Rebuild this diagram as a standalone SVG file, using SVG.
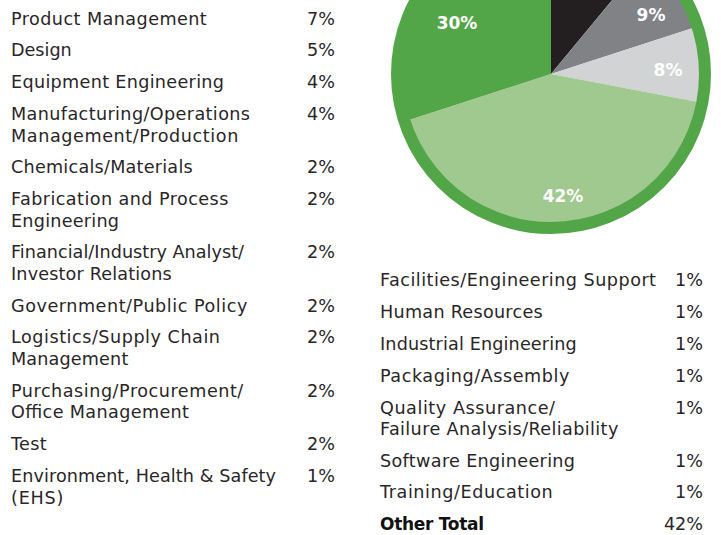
<svg xmlns="http://www.w3.org/2000/svg" width="721" height="535" viewBox="0 0 721 535">
<style>
.t{font-family:"DejaVu Sans","Liberation Sans",sans-serif;font-size:17.6px;fill:#2a2627}
.p{text-anchor:end}
.b{font-weight:bold;fill:#111;font-size:17px}
.l{font-family:"DejaVu Sans","Liberation Sans",sans-serif;font-size:17px;font-weight:bold;fill:#fff;text-anchor:middle}
</style>
<rect width="721" height="535" fill="#fff"/>
<g id="pie">
<path d="M551,74 L551,-76 A150,150 0 0,1 646.6,-41.6 Z" fill="#231f20"/>
<path d="M551,74 L646.6,-41.6 A150,150 0 0,1 693.7,27.65 Z" fill="#808285"/>
<path d="M551,74 L693.7,27.65 A150,150 0 0,1 698.3,102.1 Z" fill="#d1d3d4"/>
<path d="M551,74 L698.3,102.1 A150,150 0 0,1 408.3,120.35 Z" fill="#a0c98f"/>
<path d="M551,74 L408.3,120.35 A150,150 0 0,1 551,-76 Z" fill="#52a647"/>
<circle cx="551" cy="74" r="154" fill="none" stroke="#52a647" stroke-width="12"/>
<text class="l" x="457" y="28.5">30%</text>
<text class="l" x="651" y="21">9%</text>
<text class="l" x="668" y="76">8%</text>
<text class="l" x="563" y="202">42%</text>
</g>
<g id="left-list">
<text class="t" x="11" y="25" textLength="195.7">Product Management</text><text class="t p" x="335" y="25">7%</text>
<text class="t" x="11" y="56" textLength="60.7">Design</text><text class="t p" x="335" y="56">5%</text>
<text class="t" x="11" y="88" textLength="213">Equipment Engineering</text><text class="t p" x="335" y="88">4%</text>
<text class="t" x="11" y="120" textLength="239">Manufacturing/Operations</text><text class="t" x="11" y="141.5" textLength="227.3">Management/Production</text><text class="t p" x="335" y="120">4%</text>
<text class="t" x="11" y="173" textLength="181.7">Chemicals/Materials</text><text class="t p" x="335" y="173">2%</text>
<text class="t" x="11" y="205" textLength="217.3">Fabrication and Process</text><text class="t" x="11" y="226.5" textLength="108">Engineering</text><text class="t p" x="335" y="205">2%</text>
<text class="t" x="11" y="258" textLength="233">Financial/Industry Analyst/</text><text class="t" x="11" y="279.5" textLength="160.7">Investor Relations</text><text class="t p" x="335" y="258">2%</text>
<text class="t" x="11" y="311.5" textLength="236.3">Government/Public Policy</text><text class="t p" x="335" y="311.5">2%</text>
<text class="t" x="11" y="343" textLength="209">Logistics/Supply Chain</text><text class="t" x="11" y="364.5" textLength="117.3">Management</text><text class="t p" x="335" y="343">2%</text>
<text class="t" x="11" y="396.5" textLength="232.3">Purchasing/Procurement/</text><text class="t" x="11" y="418" textLength="178">Office Management</text><text class="t p" x="335" y="396.5">2%</text>
<text class="t" x="11" y="450" textLength="35.7">Test</text><text class="t p" x="335" y="450">2%</text>
<text class="t" x="11" y="482" textLength="265">Environment, Health &amp; Safety</text><text class="t" x="11" y="503.5" textLength="52.3">(EHS)</text><text class="t p" x="335" y="482">1%</text>
</g>
<g id="right-list">
<text class="t" x="380" y="286" textLength="276">Facilities/Engineering Support</text><text class="t p" x="703" y="286">1%</text>
<text class="t" x="380" y="317.5" textLength="162.7">Human Resources</text><text class="t p" x="703" y="317.5">1%</text>
<text class="t" x="380" y="350" textLength="196.7">Industrial Engineering</text><text class="t p" x="703" y="350">1%</text>
<text class="t" x="380" y="381.5" textLength="189.3">Packaging/Assembly</text><text class="t p" x="703" y="381.5">1%</text>
<text class="t" x="380" y="413.5" textLength="175">Quality Assurance/</text><text class="t" x="380" y="435" textLength="238.3">Failure Analysis/Reliability</text><text class="t p" x="703" y="413.5">1%</text>
<text class="t" x="380" y="466.5" textLength="195">Software Engineering</text><text class="t p" x="703" y="466.5">1%</text>
<text class="t" x="380" y="498" textLength="172.7">Training/Education</text><text class="t p" x="703" y="498">1%</text>
<text class="t b" x="380" y="530" textLength="104">Other Total</text><text class="t p" x="703" y="530">42%</text>
</g>
</svg>
